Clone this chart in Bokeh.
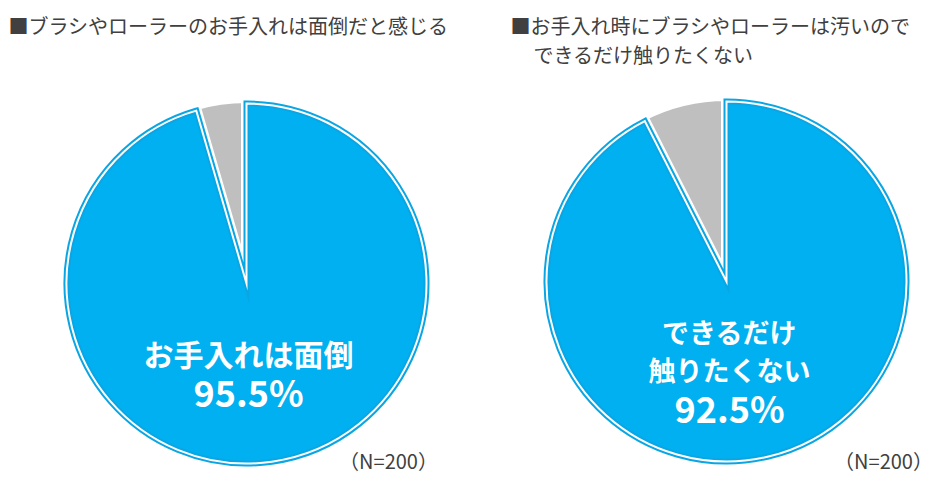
import math
from bokeh.plotting import figure
from bokeh.models import Range1d, ColumnDataSource
from bokeh.core.properties import value
from bokeh.embed import file_html
from bokeh.resources import INLINE

# ---- data ----
titles = [["■ブラシやローラーのお手入れは面倒だと感じる"],
          ["■お手入れ時にブラシやローラーは汚いので", "できるだけ触りたくない"]]
main_labels = [["お手入れは面倒"], ["できるだけ", "触りたくない"]]
main_values = [95.5, 92.5]
other_values = [4.5, 7.5]
sample_note = "（N=200）"

# ---- layout (screen pixel coordinates of the 943x486 page) ----
W, H = 943, 486
FONT = "Noto Sans CJK JP"
BLUE = "#00B0F0"
BLUE_EDGE = "#0AA6E4"
GRAY = "#BFBFBF"
DARK = "#404040"

def Y(sy):
    return H - sy

p = figure(width=940, height=478, output_backend="svg", toolbar_location=None,
           x_range=Range1d(0, 940), y_range=Range1d(8, 486),
           min_border=0, outline_line_color=None, background_fill_color="white")
p.xaxis.visible = False
p.yaxis.visible = False
p.grid.visible = False

centers = [(246, 283), (726, 281)]
R = 180
label_x = [248, 729]
label_rows_y = [[352], [331, 369]]
label_size = ["30px", "27px"]
pct_y = [390, 406]
note_pos = [(388, 460), (883, 460)]
title_pos = [[(8, 25)], [(510, 25), (533, 54)]]

for i in range(2):
    cx, cy = centers[i]
    tot = main_values[i] + other_values[i]
    other_ang = 2 * math.pi * other_values[i] / tot
    start_top = math.pi / 2
    # gray (minor) slice, drawn first with a wide white edge
    src_g = ColumnDataSource(dict(x=[cx], y=[Y(cy)], s=[start_top], e=[start_top + other_ang]))
    p.wedge(x="x", y="y", radius=R + 6, start_angle="s", end_angle="e", source=src_g,
            fill_color=GRAY, line_color="white", line_width=11, line_join="miter")
    # blue (major) slice
    src_b = ColumnDataSource(dict(x=[cx], y=[Y(cy)], s=[start_top + other_ang], e=[start_top + 2 * math.pi]))
    p.wedge(x="x", y="y", radius=R, start_angle="s", end_angle="e", source=src_b,
            fill_color=BLUE, line_color=BLUE_EDGE, line_width=6, line_join="miter")
    p.wedge(x="x", y="y", radius=R, start_angle="s", end_angle="e", source=src_b,
            fill_color=None, line_color="white", line_width=2, line_join="miter")

    # labels inside
    for txt, ly in zip(main_labels[i], label_rows_y[i]):
        p.text(x=[label_x[i]], y=[Y(ly)], text=[txt], text_font=value(FONT),
               text_font_size=label_size[i], text_font_style="bold", text_color="white",
               text_align="center", text_baseline="middle")
    p.text(x=[label_x[i]], y=[Y(pct_y[i])], text=[f"{main_values[i]}%"], text_font=value(FONT),
           text_font_size="36px", text_font_style="bold", text_color="white",
           text_align="center", text_baseline="middle")
    # N note
    nx, ny = note_pos[i]
    p.text(x=[nx], y=[Y(ny)], text=[sample_note], text_font=value(FONT),
           text_font_size="20px", text_color=DARK, text_align="center", text_baseline="middle")
    # titles
    for txt, (tx, ty) in zip(titles[i], title_pos[i]):
        p.text(x=[tx], y=[Y(ty)], text=[txt], text_font=value(FONT),
               text_font_size="20px", text_color=DARK, text_align="left", text_baseline="middle")

open("out.html", "w").write(file_html(p, INLINE))
